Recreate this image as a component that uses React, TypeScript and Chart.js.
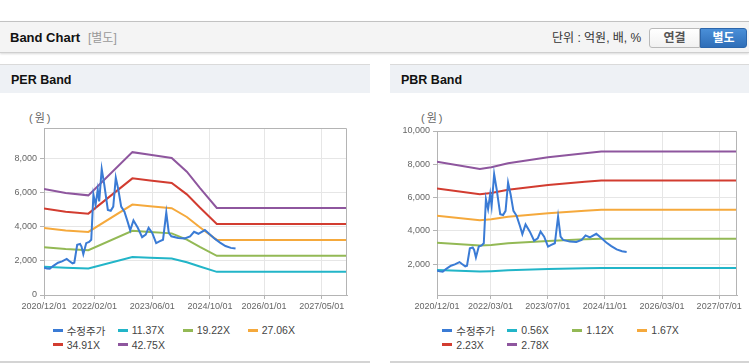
import React, { useEffect, useRef } from "react";
import { Chart, registerables } from "chart.js";
Chart.register(...registerables);

const FONT = '"Liberation Sans", Arial, "Noto Sans CJK KR", sans-serif';

// x positions are month offsets from 2020/12/01
const AXIS_START = "2020/12/01";
const AXIS_END = "2027/12/01";

const perTickLabels = ["2020/12/01", "2022/02/01", "2023/06/01", "2024/10/01", "2026/01/01", "2027/05/01"];
const pbrTickLabels = ["2020/12/01", "2022/03/01", "2023/07/01", "2024/11/01", "2026/03/01", "2027/07/01"];

const perYTicks = [0, 2000, 4000, 6000, 8000];
const pbrYTicks = [2000, 4000, 6000, 8000, 10000];

const perNames = ["수정주가", "11.37X", "19.22X", "27.06X", "34.91X", "42.75X"];
const pbrNames = ["수정주가", "0.56X", "1.12X", "1.67X", "2.23X", "2.78X"];

const colors = ["#3a7bd5", "#22b5c8", "#93b955", "#f5a93c", "#d23c30", "#8e569e"];

// adjusted price (month offset, value)
const priceX = [0, 0.8, 1.6, 2.5, 3.9, 5.0, 6.3, 7.0, 7.9, 8.4, 9.2, 10.0, 10.4, 10.9, 11.7, 12.5, 13.1, 13.7, 14.3, 14.9, 15.3, 16.0, 16.7, 17.7, 18.5, 19.2, 19.9, 20.6, 21.4, 22.3, 23.2, 23.9, 24.8, 26.0, 27.2, 28.2, 29.0, 30.0, 31.1, 32.0, 33.0, 33.9, 34.6, 35.3, 37.2, 39.0, 40.5, 41.6, 42.8, 44.6, 46.0, 47.4, 48.8, 50.3, 51.8, 53.1];
const priceValues = [1600, 1560, 1540, 1700, 1900, 1980, 2120, 2000, 1860, 1900, 2950, 3000, 2850, 2400, 3050, 3120, 3250, 5900, 5300, 6200, 5500, 7400, 6500, 5000, 4950, 5200, 6900, 6200, 5200, 4900, 4300, 3800, 4380, 3950, 3400, 3550, 3950, 3650, 3050, 3150, 3250, 4850, 3650, 3450, 3350, 3330, 3450, 3720, 3600, 3820, 3560, 3300, 3080, 2880, 2770, 2730];

// PER bands
const perBandX = [0, 6, 12.3, 24.5, 29.4, 35.4, 39.6, 43.2, 47.9, 84];
const per1137 = [1657, 1596, 1559, 2234, 2194, 2144, 1929, 1676, 1362, 1362];
const per1922 = [2801, 2698, 2635, 3777, 3709, 3624, 3260, 2832, 2302, 2302];
const per2706 = [3943, 3798, 3709, 5317, 5222, 5102, 4589, 3988, 3241, 3241];
const per3491 = [5087, 4900, 4785, 6859, 6737, 6582, 5920, 5145, 4181, 4181];
const per4275 = [6230, 6000, 5860, 8400, 8250, 8060, 7250, 6300, 5120, 5120];

// PBR bands
const pbrBandX = [0, 12, 15.2, 19.9, 31.1, 41.4, 46, 84];
const pbr056 = [1643, 1555, 1575, 1623, 1696, 1744, 1764, 1764];
const pbr112 = [3286, 3110, 3151, 3247, 3392, 3489, 3529, 3529];
const pbr167 = [4900, 4637, 4697, 4842, 5058, 5202, 5262, 5262];
const pbr223 = [6544, 6193, 6273, 6466, 6755, 6947, 7027, 7027];
const pbr278 = [8157, 7720, 7820, 8060, 8420, 8660, 8760, 8760];

function monthOffset(d: string): number {
  const [y, m] = d.split("/").map(Number);
  const [y0, m0] = AXIS_START.split("/").map(Number);
  return (y - y0) * 12 + (m - m0);
}

const framePlugin = {
  id: "frame",
  afterDatasetsDraw(chart: any) {
    const { ctx, chartArea } = chart;
    const { left, top, right, bottom } = chartArea;
    ctx.save();
    ctx.strokeStyle = "#b4b4b4";
    ctx.lineWidth = 1;
    ctx.beginPath();
    ctx.moveTo(Math.round(left) + 0.5, Math.round(top) + 0.5);
    ctx.lineTo(Math.round(right) - 0.5, Math.round(top) + 0.5);
    ctx.lineTo(Math.round(right) - 0.5, Math.round(bottom) + 0.5);
    ctx.stroke();
    ctx.restore();
  },
};

type ChartProps = {
  left: number;
  top: number;
  width: number;
  height: number;
  yAxisWidth: number;
  padRight: number;
  padTop: number;
  yMin: number;
  yMax: number;
  yTicks: number[];
  xTickLabels: string[];
  bandX: number[];
  bands: number[][];
  names: string[];
};

function BandCanvas(p: ChartProps) {
  const ref = useRef<HTMLCanvasElement | null>(null);
  useEffect(() => {
    if (!ref.current) return;
    const xTickValues = p.xTickLabels.map(monthOffset);
    const datasets: any[] = [
      {
        label: p.names[0],
        data: priceX.map((x, i) => ({ x, y: priceValues[i] })),
        borderColor: colors[0],
        backgroundColor: colors[0],
        borderWidth: 2,
        pointRadius: 0,
        tension: 0,
      },
      ...p.bands.map((b, k) => ({
        label: p.names[k + 1],
        data: p.bandX.map((x, i) => ({ x, y: b[i] })),
        borderColor: colors[k + 1],
        backgroundColor: colors[k + 1],
        borderWidth: 2,
        pointRadius: 0,
        tension: 0,
      })),
    ];
    const chart = new Chart(ref.current, {
      type: "line",
      data: { datasets },
      plugins: [framePlugin],
      options: {
        animation: false,
        responsive: false,
        devicePixelRatio: 1,
        layout: { padding: { left: 0, right: p.padRight, top: p.padTop, bottom: 0 } },
        plugins: { legend: { display: false }, tooltip: { enabled: false } },
        scales: {
          x: {
            type: "linear",
            min: 0,
            max: monthOffset(AXIS_END),
            afterBuildTicks: (s: any) => {
              s.ticks = xTickValues.map((v) => ({ value: v }));
            },
            afterFit: (s: any) => {
              s.height = 25;
            },
            ticks: {
              autoSkip: false,
              maxRotation: 0,
              minRotation: 0,
              padding: 2,
              color: "#666",
              font: { family: FONT, size: 9 },
              callback: (_v: any, i: number) => p.xTickLabels[i],
            },
            grid: { color: "#e6e6e6", tickColor: "#b4b4b4", tickLength: 4 },
            border: { color: "#b4b4b4" },
          },
          y: {
            type: "linear",
            min: p.yMin,
            max: p.yMax,
            afterBuildTicks: (s: any) => {
              s.ticks = p.yTicks.map((v) => ({ value: v }));
            },
            afterFit: (s: any) => {
              s.width = p.yAxisWidth;
            },
            ticks: {
              padding: 3,
              color: "#666",
              font: { family: FONT, size: 9 },
              callback: (v: any) => Number(v).toLocaleString("en-US"),
            },
            grid: { color: "#e6e6e6", tickColor: "#b4b4b4", tickLength: 4 },
            border: { color: "#b4b4b4" },
          },
        },
      } as any,
    });
    return () => chart.destroy();
  }, []);
  return (
    <canvas
      ref={ref}
      width={p.width}
      height={p.height}
      style={{ position: "absolute", left: p.left, top: p.top, width: p.width, height: p.height }}
    />
  );
}

function Legend({ left, names }: { left: number; names: string[] }) {
  const rows = [330, 344.5];
  return (
    <>
      {names.map((n, i) => {
        const col = i % 4;
        const row = Math.floor(i / 4);
        return (
          <div
            key={n}
            style={{
              position: "absolute",
              left: left + col * 65,
              top: rows[row] - 8,
              height: 16,
              display: "flex",
              alignItems: "center",
              whiteSpace: "nowrap",
              fontFamily: FONT,
              fontSize: 10.5,
              color: "#444",
            }}
          >
            <span style={{ display: "inline-block", width: 10, height: 3, background: colors[i], marginRight: 4 }} />
            <span>{n}</span>
          </div>
        );
      })}
    </>
  );
}

function Panel({ left, width, title }: { left: number; width: number; title: string }) {
  return (
    <>
      <div
        style={{
          position: "absolute",
          left,
          top: 64,
          width,
          height: 29,
          background: "#eef1f5",
          borderTop: "1px solid #dadada",
          boxSizing: "border-box",
        }}
      />
      <div
        style={{
          position: "absolute",
          left: left + 11,
          top: 72,
          fontFamily: FONT,
          fontWeight: "bold",
          fontSize: 12.5,
          color: "#111",
          lineHeight: "16px",
        }}
      >
        {title}
      </div>
      <div style={{ position: "absolute", left, top: 361, width, height: 2, background: "#d4d4d4" }} />
    </>
  );
}

export default function App() {
  return (
    <div style={{ position: "absolute", left: 0, top: 0, width: 749, height: 364, background: "#fff", overflow: "hidden", fontFamily: FONT }}>
      {/* top header bar */}
      <div
        style={{
          position: "absolute",
          left: 0,
          top: 21,
          width: 749,
          height: 32,
          background: "#f4f4f4",
          borderTop: "1px solid #c2c2c2",
          borderBottom: "1px solid #cfcfcf",
          boxShadow: "0 1px 2px rgba(0,0,0,0.15)",
          boxSizing: "border-box",
        }}
      />
      <div style={{ position: "absolute", left: 10, top: 30, fontWeight: "bold", fontSize: 13, color: "#111", lineHeight: "16px" }}>
        Band Chart
      </div>
      <div style={{ position: "absolute", left: 88, top: 30, fontSize: 12, color: "#999", lineHeight: "16px" }}>[별도]</div>
      <div style={{ position: "absolute", left: 552, top: 30, fontSize: 12, color: "#333", lineHeight: "16px", whiteSpace: "nowrap" }}>
        단위 : 억원, 배, %
      </div>
      <div
        style={{
          position: "absolute",
          left: 649,
          top: 28,
          width: 51,
          height: 20,
          boxSizing: "border-box",
          border: "1px solid #b9b9b9",
          borderRadius: "3px 0 0 3px",
          background: "linear-gradient(#ffffff, #f1f1f1)",
          color: "#555",
          fontWeight: "bold",
          fontSize: 12,
          lineHeight: "18px",
          textAlign: "center",
        }}
      >
        연결
      </div>
      <div
        style={{
          position: "absolute",
          left: 700,
          top: 28,
          width: 47,
          height: 20,
          boxSizing: "border-box",
          border: "1px solid #2c66ab",
          borderRadius: "0 3px 3px 0",
          background: "linear-gradient(#4a8fd8, #2f6eb8)",
          color: "#fff",
          fontWeight: "bold",
          fontSize: 12,
          lineHeight: "18px",
          textAlign: "center",
        }}
      >
        별도
      </div>

      <Panel left={0} width={370} title="PER Band" />
      <Panel left={390} width={359} title="PBR Band" />

      <div style={{ position: "absolute", left: 29, top: 111, fontSize: 11, color: "#666", lineHeight: "14px", letterSpacing: 2, whiteSpace: "nowrap" }}>(원)</div>
      <div style={{ position: "absolute", left: 421, top: 111, fontSize: 11, color: "#666", lineHeight: "14px", letterSpacing: 2, whiteSpace: "nowrap" }}>(원)</div>

      <BandCanvas
        left={0}
        top={110}
        width={370}
        height={210}
        yAxisWidth={44}
        padRight={23}
        padTop={18}
        yMin={0}
        yMax={9820}
        yTicks={perYTicks}
        xTickLabels={perTickLabels}
        bandX={perBandX}
        bands={[per1137, per1922, per2706, per3491, per4275]}
        names={perNames}
      />
      <BandCanvas
        left={390}
        top={110}
        width={359}
        height={210}
        yAxisWidth={47}
        padRight={12}
        padTop={21}
        yMin={140}
        yMax={10000}
        yTicks={pbrYTicks}
        xTickLabels={pbrTickLabels}
        bandX={pbrBandX}
        bands={[pbr056, pbr112, pbr167, pbr223, pbr278]}
        names={pbrNames}
      />

      <Legend left={52.7} names={perNames} />
      <Legend left={442.3} names={pbrNames} />
    </div>
  );
}
